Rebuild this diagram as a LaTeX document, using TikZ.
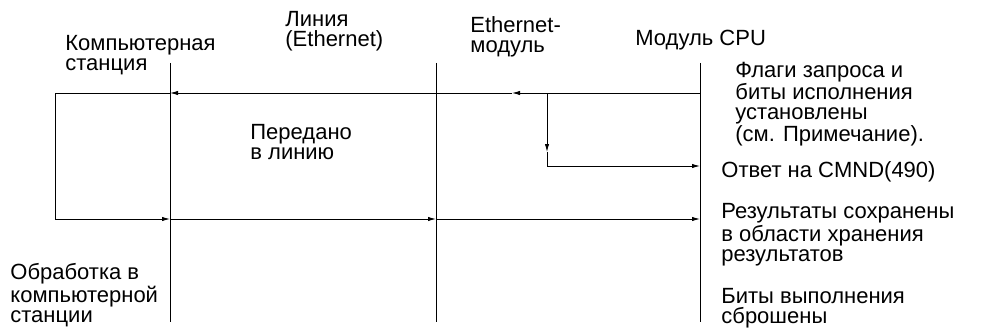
\documentclass[tikz,border=0pt]{standalone}
\usepackage{fontspec}
\setmainfont{Liberation Sans}
\usetikzlibrary{arrows.meta}
\usetikzlibrary{positioning}

\begin{document}
\begin{tikzpicture}[x=0.75pt, y=-0.75pt, line width=0.6pt,
    every node/.style={inner sep=0pt, align=left, anchor=base west, font=\fontsize{16.5}{15}\selectfont},
    msg/.style={-{Latex[length=6pt,width=3.2pt]}}]
  \useasboundingbox (0,0) rectangle (981,328);

  % lifelines
  \coordinate (pctop) at (170,63);
  \coordinate (pcbot) at (170,322);
  \coordinate (ethtop) at (436,63);
  \coordinate (ethbot) at (436,322);
  \coordinate (cputop) at (700,63);
  \coordinate (cpubot) at (700,322);
  \draw (pctop) -- (pcbot);
  \draw (ethtop) -- (ethbot);
  \draw (cputop) -- (cpubot);

  % headings (placed by the baseline of their last line)
  \node (pc) at (65,70) {Компьютерная\\станция};
  \node (lan) at (285,47) {Линия\\(Ethernet)};
  \node (eth) at (470,53) {Ethernet-\\модуль};
  \node (cpu) at (635,46) {Модуль CPU};

  % notes
  \node (flags) at (735,141) {Флаги запроса и\\биты исполнения\\установлены\\(см. Примечание).};
  \node (sent) at (250,159) {Передано\\в линию};
  \node (reply) at (721,177) {Ответ на CMND(490)};
  \node (stored) at (721,261) {Результаты сохранены\\в области хранения\\результатов};
  \node (done) at (721,323) {Биты выполнения\\сброшены};
  \node (proc) at (10,322) {Обработка в\\компьютерной\\станции};

  % request to the computer
  \coordinate (req) at (700,93);
  \coordinate (reqeth) at (512,93);
  \coordinate (branch) at (547,93);
  \coordinate (reqpc) at (170,93);
  \coordinate (looptop) at (55,93);
  \draw[msg] (req) -- (reqeth);
  \draw[msg] (reqeth) -- (reqpc);
  \draw (reqpc) -- (looptop);

  % reply from the Ethernet module
  \coordinate (branchmid) at (547,152);
  \coordinate (branchbot) at (547,166);
  \coordinate (replycpu) at (700,166);
  \draw[msg] (branch) -- (branchmid);
  \draw[msg] (branchmid) -- (branchbot) -- (replycpu);

  % response from the computer
  \coordinate (loopbot) at (55,219);
  \coordinate (resppc) at (170,219);
  \coordinate (respeth) at (436,219);
  \coordinate (respcpu) at (700,219);
  \draw (looptop) -- (loopbot);
  \draw[msg] (loopbot) -- (resppc);
  \draw[msg] (resppc) -- (respeth);
  \draw[msg] (respeth) -- (respcpu);
\end{tikzpicture}
\end{document}
